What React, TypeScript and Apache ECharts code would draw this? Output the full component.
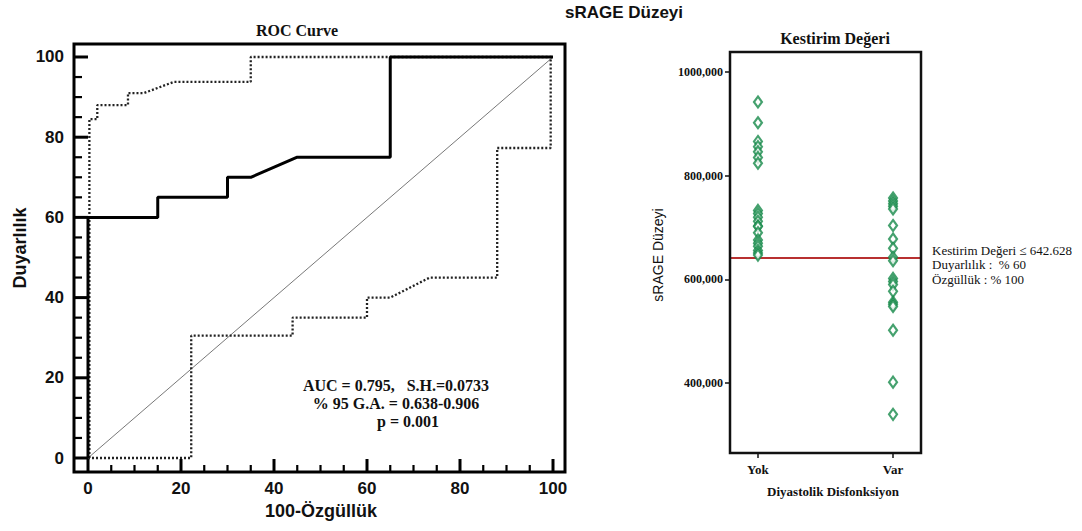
import React, { useEffect, useRef } from 'react';
import * as echarts from 'echarts';

// ROC curve (100-Özgüllük, Duyarlılık)
const rocFpr = [0, 0, 15, 15, 30, 30, 35, 45, 65, 65, 100];
const rocTpr = [0, 60, 60, 65, 65, 70, 70, 75, 75, 100, 100];
// upper 95% CI band
const upperCiX = [0.3, 0.3, 2, 2, 8.6, 8.6, 12, 18.5, 35, 35, 100];
const upperCiY = [0, 84.5, 84.5, 88, 88, 91, 91, 93.8, 93.8, 100, 100];
// lower 95% CI band
const lowerCiX = [0, 22.2, 22.2, 44, 44, 60, 60, 65, 73.5, 88, 88, 99.5, 99.5];
const lowerCiY = [0, 0, 30.5, 30.5, 35, 35, 40, 40, 45, 45, 77.3, 77.3, 100];
const diagX = [0, 100];
const diagY = [0, 100];
const rocTicks = [0, 20, 40, 60, 80, 100];
const rocMinorTicks = [5, 10, 15, 25, 30, 35, 45, 50, 55, 65, 70, 75, 85, 90, 95];

// dot plot
const groups = ['Yok', 'Var'];
const yokValues = [942000, 902000, 866000, 856000, 846000, 835000, 824000, 733000, 727000, 720000, 712000, 703000, 702000, 690000, 676000, 670000, 664000, 656000, 651000, 647000];
const varValues = [757000, 751000, 746000, 741000, 736000, 704000, 678000, 660000, 642628, 636000, 602000, 596000, 590000, 577000, 556000, 552000, 548000, 502000, 402000, 340000];
const cutoff = 642628;
const dotTicks = [400000, 600000, 800000, 1000000];
const dotTickLabels = ['400,000', '600,000', '800,000', '1000,000'];

const annotRoc = ['AUC = 0.795,   S.H.=0.0733', '% 95 G.A. = 0.638-0.906', 'p = 0.001'];
const annotCut = ['Kestirim Değeri ≤ 642.628', 'Duyarlılık :  % 60', 'Özgüllük : % 100'];

const zip = (a: number[], b: number[]) => a.map((v, i) => [v, b[i]]);

const SERIF = '"Liberation Serif", "Times New Roman", serif';
const SANS = '"Liberation Sans", Arial, sans-serif';

const ROC_W = 491;
const ROC_H = 428;

function txt(text: string, x: number, y: number, size: number, family: string, weight: string, align = 'center', rotation = 0) {
  return {
    type: 'text',
    x,
    y,
    rotation,
    style: { text, fontSize: size, fontFamily: family, fontWeight: weight, fill: '#111', align, verticalAlign: 'middle' },
  };
}

// inward tick marks drawn from the axis scale (value -> pixel via api.coord)
function tickSeries(dir: 'x' | 'y') {
  const data = [
    ...rocTicks.map((v) => [v, 1]),
    ...rocMinorTicks.map((v) => [v, 0]),
  ];
  return {
    type: 'custom',
    xAxisIndex: 0,
    yAxisIndex: 0,
    silent: true,
    clip: false,
    z: 11,
    data,
    renderItem: (params: any, api: any) => {
      const v = api.value(0);
      const major = api.value(1) === 1;
      const cs = params.coordSys;
      if (dir === 'x') {
        const px = api.coord([v, 0])[0];
        const yb = cs.y + cs.height;
        const len = major ? 13 : 7;
        return { type: 'line', shape: { x1: px, y1: yb, x2: px, y2: yb - len }, style: { stroke: '#000', lineWidth: major ? 3 : 2.2 } };
      }
      const py = api.coord([0, v])[1];
      const xl = cs.x;
      const len = major ? 14 : 8;
      return { type: 'line', shape: { x1: xl, y1: py, x2: xl + len, y2: py }, style: { stroke: '#000', lineWidth: major ? 3 : 2.2 } };
    },
  };
}

export default function App() {
  const ref = useRef<HTMLDivElement>(null);
  useEffect(() => {
    if (!ref.current) return;
    const chart = echarts.init(ref.current, null, { renderer: 'svg' });
    const rocLabel = { fontSize: 17, fontWeight: 'bold', fontFamily: SANS, color: '#111' };
    const dotStyle = { color: '#ffffff', borderColor: '#178a4a', borderWidth: 2.2 };
    const noLine = { show: false, onZero: false };
    const option: any = {
      animation: false,
      backgroundColor: '#ffffff',
      grid: [
        { left: 74, top: 44, width: ROC_W, height: ROC_H },
        { left: 730, top: 52, width: 191, height: 401 },
      ],
      xAxis: [
        {
          gridIndex: 0, type: 'value', min: -3.01, max: 102.58, position: 'bottom',
          splitLine: { show: false }, axisLine: noLine, axisTick: { show: false },
          axisLabel: { ...rocLabel, margin: 8, customValues: rocTicks },
        },
        {
          gridIndex: 1, type: 'value', min: -0.207, max: 1.207, position: 'bottom',
          splitLine: { show: false }, axisLine: noLine,
          axisTick: { length: 5, customValues: [0, 1], lineStyle: { color: '#111', width: 1.5 } },
          axisLabel: {
            customValues: [0, 1], fontSize: 13, fontWeight: 'bold', fontFamily: SERIF, color: '#111', margin: 10,
            formatter: (v: number) => groups[Math.round(v)] ?? '',
          },
        },
      ],
      yAxis: [
        {
          gridIndex: 0, type: 'value', min: -3.49, max: 103.24, position: 'left',
          splitLine: { show: false }, axisLine: noLine, axisTick: { show: false },
          axisLabel: { ...rocLabel, margin: 10, customValues: rocTicks },
        },
        {
          gridIndex: 1, type: 'value', min: 265400, max: 1038460, position: 'left',
          splitLine: { show: false }, axisLine: noLine,
          axisTick: { length: 5, customValues: dotTicks, lineStyle: { color: '#111', width: 1.5 } },
          axisLabel: {
            customValues: dotTicks, fontSize: 12, fontWeight: 'bold', fontFamily: SERIF, color: '#111', margin: 7,
            formatter: (v: number) => dotTickLabels[dotTicks.indexOf(v)] ?? '',
          },
        },
      ],
      series: [
        {
          type: 'line', xAxisIndex: 0, yAxisIndex: 0, data: zip(diagX, diagY), showSymbol: false,
          lineStyle: { color: '#555', width: 0.8 },
        },
        {
          type: 'line', xAxisIndex: 0, yAxisIndex: 0, data: zip(upperCiX, upperCiY), showSymbol: false,
          lineStyle: { color: '#222', width: 2.3, type: [2, 2] },
        },
        {
          type: 'line', xAxisIndex: 0, yAxisIndex: 0, data: zip(lowerCiX, lowerCiY), showSymbol: false,
          lineStyle: { color: '#222', width: 2.3, type: [2, 2] },
        },
        {
          type: 'line', xAxisIndex: 0, yAxisIndex: 0, data: zip(rocFpr, rocTpr), showSymbol: false,
          lineStyle: { color: '#000', width: 3 },
        },
        tickSeries('x'),
        tickSeries('y'),
        {
          type: 'scatter', xAxisIndex: 1, yAxisIndex: 1,
          data: yokValues.map((v) => [0, v]), symbol: 'diamond', symbolSize: [8, 11], itemStyle: dotStyle, z: 3,
        },
        {
          type: 'scatter', xAxisIndex: 1, yAxisIndex: 1,
          data: varValues.map((v) => [1, v]), symbol: 'diamond', symbolSize: [8, 11], itemStyle: dotStyle, z: 3,
          markLine: {
            silent: true, symbol: 'none', label: { show: false },
            lineStyle: { color: '#b83030', width: 1.8, type: 'solid' },
            data: [{ yAxis: cutoff }],
            z: 1,
          },
        },
      ],
      graphic: [
        { type: 'rect', shape: { x: 74, y: 44, width: ROC_W, height: ROC_H }, style: { fill: 'none', stroke: '#000', lineWidth: 3 }, z: 10 },
        { type: 'rect', shape: { x: 730, y: 52, width: 191, height: 401 }, style: { fill: 'none', stroke: '#111', lineWidth: 2.5 }, z: 10 },
        txt('sRAGE Düzeyi', 624, 12, 17, SANS, 'bold'),
        txt('ROC Curve', 297, 30, 16, SERIF, 'bold'),
        txt('Kestirim Değeri', 835, 38, 16, SERIF, 'bold'),
        txt('Duyarlılık', 20, 248, 18, SANS, 'bold', 'center', Math.PI / 2),
        txt('100-Özgüllük', 321, 511, 18, SANS, 'bold'),
        txt(annotRoc[0], 396, 385, 16, SERIF, 'bold'),
        txt(annotRoc[1], 396, 403, 16, SERIF, 'bold'),
        txt(annotRoc[2], 408, 421, 16, SERIF, 'bold'),
        txt('sRAGE Düzeyi', 658, 255, 14, SANS, 'normal', 'center', Math.PI / 2),
        txt('Diyastolik Disfonksiyon', 833, 491, 13, SERIF, 'bold'),
        txt(annotCut[0], 932, 250, 13, SERIF, 'normal', 'left'),
        txt(annotCut[1], 932, 264, 13, SERIF, 'normal', 'left'),
        txt(annotCut[2], 932, 279, 13, SERIF, 'normal', 'left'),
      ],
    };
    chart.setOption(option);
    return () => chart.dispose();
  }, []);
  return (
    <div
      ref={ref}
      style={{ position: 'fixed', left: 0, top: 0, width: 1082, height: 531, background: '#fff' }}
    />
  );
}
